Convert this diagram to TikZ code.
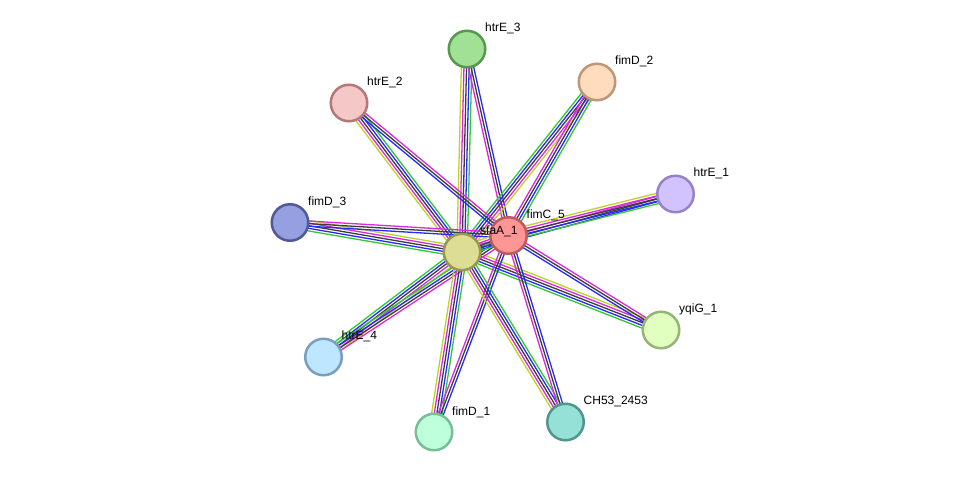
\documentclass[tikz,border=0pt]{standalone}
\usepackage{fontspec}
\setmainfont{Liberation Sans}
\usetikzlibrary{calc,backgrounds}

% evidence channel colours
\definecolor{eG}{RGB}{50,200,50}
\definecolor{eB}{RGB}{40,40,255}
\definecolor{eK}{RGB}{60,60,60}
\definecolor{eM}{RGB}{220,40,220}
\definecolor{eY}{RGB}{190,210,40}

% protein fills and rims
\definecolor{sfaF}{RGB}{221,221,150}  \definecolor{sfaD}{RGB}{150,150,85}
\definecolor{fimCF}{RGB}{255,150,150} \definecolor{fimCD}{RGB}{190,90,90}
\definecolor{hEthF}{RGB}{160,225,150} \definecolor{hEthD}{RGB}{90,150,80}
\definecolor{fDtwF}{RGB}{255,220,190} \definecolor{fDtwD}{RGB}{190,150,120}
\definecolor{hEtwF}{RGB}{245,200,200} \definecolor{hEtwD}{RGB}{180,120,120}
\definecolor{hEonF}{RGB}{210,195,255} \definecolor{hEonD}{RGB}{150,130,200}
\definecolor{fDthF}{RGB}{150,160,225} \definecolor{fDthD}{RGB}{80,90,150}
\definecolor{yqiF}{RGB}{225,255,190}  \definecolor{yqiD}{RGB}{150,180,120}
\definecolor{hEfoF}{RGB}{190,230,255} \definecolor{hEfoD}{RGB}{120,160,190}
\definecolor{fDonF}{RGB}{190,255,220} \definecolor{fDonD}{RGB}{120,190,150}
\definecolor{chF}{RGB}{150,225,215}   \definecolor{chD}{RGB}{80,150,140}

\tikzset{
  prot/.style 2 args={circle, minimum size=36.5pt, inner sep=0pt, line width=2.5pt, fill=#1, draw=#2},
  lbl/.style={anchor=base west, inner sep=0pt, font=\fontsize{12}{14}\selectfont},
  edge/.style={line width=1.3pt},
}

% a bundle of parallel lines between two proteins, one line per colour
\newcommand{\bundle}[3]{%
  \foreach \c [count=\i] in {#3} {\xdef\bundlen{\i}}%
  \foreach \c [count=\i] in {#3} {%
    \pgfmathsetmacro{\boff}{(\i-(\bundlen+1)/2)*2.6}%
    \draw[edge,\c] ($(#1)!\boff pt!90:(#2)$) -- ($(#2)!\boff pt!-90:(#1)$);
  }}

\begin{document}
\begin{tikzpicture}[x=1pt,y=-1pt]
\useasboundingbox (0,0) rectangle (975,478);

% proteins
\node[prot={sfaF}{sfaD}]   (sfa)  at (462,252) {};
\node[prot={fimCF}{fimCD}] (fimC) at (508.5,235.5) {};
\node[prot={hEthF}{hEthD}] (hE3)  at (467,49) {};
\node[prot={fDtwF}{fDtwD}] (fD2)  at (597,82) {};
\node[prot={hEtwF}{hEtwD}] (hE2)  at (349,103) {};
\node[prot={hEonF}{hEonD}] (hE1)  at (675.5,194) {};
\node[prot={fDthF}{fDthD}] (fD3)  at (290,222.5) {};
\node[prot={yqiF}{yqiD}]   (yqiG) at (661,330) {};
\node[prot={hEfoF}{hEfoD}] (hE4)  at (323.5,357) {};
\node[prot={fDonF}{fDonD}] (fD1)  at (434,432) {};
\node[prot={chF}{chD}]     (ch53) at (565.5,422) {};

% interactions, beneath the proteins
\begin{scope}[on background layer]
  \fill[white] (0,0) rectangle (975,478);
  \bundle{hE3}{sfa}{eY,eM,eK,eB,eG}
  \bundle{hE3}{fimC}{eM,eK,eB}
  \bundle{fD2}{sfa}{eG,eB,eK,eM,eY}
  \bundle{fD2}{fimC}{eM,eK,eB,eG}
  \bundle{hE2}{sfa}{eY,eM,eK,eB,eG}
  \bundle{hE2}{fimC}{eB,eK,eM}
  \bundle{hE1}{sfa}{eM,eK,eB}
  \bundle{hE1}{fimC}{eY,eM,eK,eB,eG}
  \bundle{fD3}{sfa}{eG,eB,eK,eM,eY}
  \bundle{fD3}{fimC}{eB,eK,eM}
  \bundle{yqiG}{sfa}{eY,eM,eK,eB,eG}
  \bundle{yqiG}{fimC}{eM,eK,eB}
  \bundle{hE4}{sfa}{eY,eM,eK,eB,eG}
  \bundle{hE4}{fimC}{eM,eK,eB,eG}
  \bundle{fD1}{sfa}{eG,eB,eK,eM,eY}
  \bundle{fD1}{fimC}{eB,eK,eM}
  \bundle{ch53}{sfa}{eG,eB,eK,eM,eY}
  \bundle{ch53}{fimC}{eB,eK,eM}
  \bundle{sfa}{fimC}{eG,eB,eK,eM,eY}
\end{scope}

% labels
\node[lbl] (l-sfa)  at ($(sfa)+(18,-17)$)  {sfaA\_1};
\node[lbl] (l-fimC) at ($(fimC)+(18,-17)$) {fimC\_5};
\node[lbl] (l-hE3)  at ($(hE3)+(18,-17)$)  {htrE\_3};
\node[lbl] (l-fD2)  at ($(fD2)+(18,-17)$)  {fimD\_2};
\node[lbl] (l-hE2)  at ($(hE2)+(18,-17)$)  {htrE\_2};
\node[lbl] (l-hE1)  at ($(hE1)+(18,-17)$)  {htrE\_1};
\node[lbl] (l-fD3)  at ($(fD3)+(18,-17)$)  {fimD\_3};
\node[lbl] (l-yqiG) at ($(yqiG)+(18,-17)$) {yqiG\_1};
\node[lbl] (l-hE4)  at ($(hE4)+(18,-17)$)  {htrE\_4};
\node[lbl] (l-fD1)  at ($(fD1)+(18,-17)$)  {fimD\_1};
\node[lbl] (l-ch53) at ($(ch53)+(18,-17)$) {CH53\_2453};
\end{tikzpicture}
\end{document}
